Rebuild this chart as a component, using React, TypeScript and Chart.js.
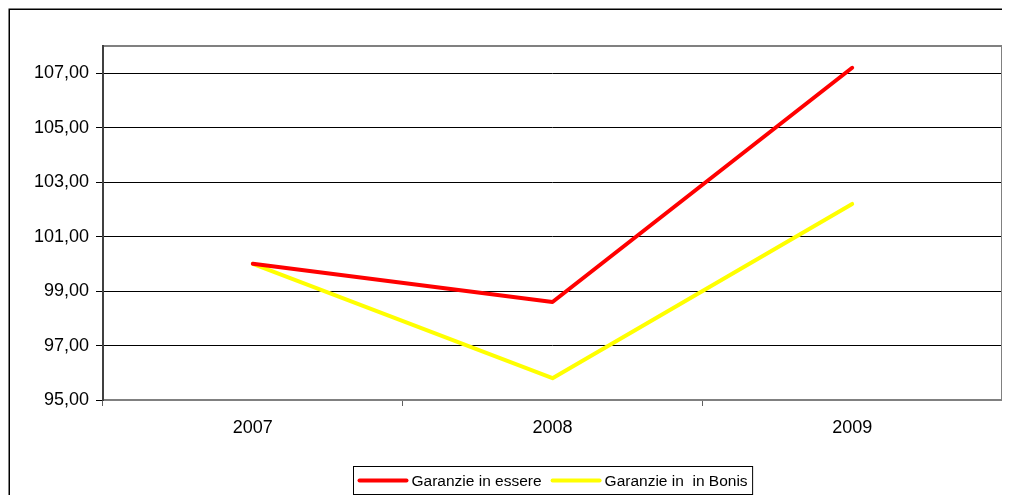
import React, { useEffect, useRef } from "react";
import { Chart, registerables } from "chart.js";

Chart.register(...registerables);

const FONT = '"Liberation Sans", Arial, sans-serif';

const years = ["2007", "2008", "2009"];
const garanzieInEssere = [100.0, 98.6, 107.2];
const garanzieInBonis = [100.0, 95.8, 102.2];
const yTicks = [95, 97, 99, 101, 103, 105, 107];

// Outer frame of the chart object, plot-area border and the boxed legend
const framePlugin = {
  id: "framePlugin",
  beforeDraw(chart: any) {
    const { ctx, width, height } = chart;
    ctx.save();
    ctx.fillStyle = "#ffffff";
    ctx.fillRect(0, 0, width, height);
    ctx.strokeStyle = "#000000";
    ctx.lineWidth = 1.5;
    ctx.strokeRect(1.25, 1.25, width + 20, height + 20);
    ctx.restore();
  },
  beforeDatasetsDraw(chart: any) {
    const { ctx, chartArea } = chart;
    ctx.save();
    ctx.strokeStyle = "#808080";
    ctx.lineWidth = 2;
    ctx.strokeRect(
      chartArea.left,
      chartArea.top,
      chartArea.right - chartArea.left,
      chartArea.bottom - chartArea.top
    );
    ctx.strokeStyle = "#404040";
    ctx.beginPath();
    ctx.moveTo(chartArea.left, chartArea.top - 1);
    ctx.lineTo(chartArea.left, chartArea.bottom + 1);
    ctx.stroke();
    ctx.restore();
  },
  afterDraw(chart: any) {
    const { ctx, chartArea } = chart;
    ctx.save();
    ctx.font = `15.5px ${FONT}`;
    const items = chart.data.datasets.map((ds: any) => ({
      label: ds.label as string,
      color: ds.borderColor as string,
      w: ctx.measureText(ds.label).width,
    }));
    const sample = 51;
    const gap = 3;
    const itemGap = 9;
    const padL = 4;
    const padR = 5;
    const total =
      padL +
      items.reduce((s: number, it: any) => s + sample + gap + it.w, 0) +
      itemGap * (items.length - 1) +
      padR;
    const left = Math.round((chartArea.left + chartArea.right) / 2 - total / 2) + 0.5;
    const top = chartArea.bottom + 66.5;
    const h = 28;
    ctx.strokeStyle = "#000000";
    ctx.lineWidth = 1;
    ctx.strokeRect(left, top, total, h);
    const cy = top + h / 2;
    let x = left + padL;
    ctx.textBaseline = "middle";
    ctx.textAlign = "left";
    items.forEach((it: any, i: number) => {
      ctx.strokeStyle = it.color;
      ctx.lineWidth = 4;
      ctx.lineCap = "round";
      ctx.beginPath();
      ctx.moveTo(x + 2, cy);
      ctx.lineTo(x + sample - 2, cy);
      ctx.stroke();
      x += sample + gap;
      ctx.fillStyle = "#000000";
      ctx.fillText(it.label, x, cy + 1);
      x += it.w + (i < items.length - 1 ? itemGap : 0);
    });
    ctx.restore();
  },
};

export default function App() {
  const canvasRef = useRef<HTMLCanvasElement | null>(null);

  useEffect(() => {
    if (!canvasRef.current) return;
    const chart = new Chart(canvasRef.current, {
      type: "line",
      data: {
        labels: years,
        datasets: [
          {
            label: "Garanzie in essere",
            data: garanzieInEssere,
            borderColor: "#ff0000",
            backgroundColor: "#ff0000",
            borderWidth: 4,
            pointRadius: 0,
            pointHoverRadius: 0,
            borderCapStyle: "round",
            borderJoinStyle: "round",
            tension: 0,
          },
          {
            label: "Garanzie in  in Bonis",
            data: garanzieInBonis,
            borderColor: "#ffff00",
            backgroundColor: "#ffff00",
            borderWidth: 4,
            pointRadius: 0,
            pointHoverRadius: 0,
            borderCapStyle: "round",
            borderJoinStyle: "round",
            tension: 0,
          },
        ],
      },
      options: {
        responsive: false,
        animation: false,
        devicePixelRatio: 1,
        layout: { padding: { top: 38, right: 8, bottom: 0, left: 0 } },
        plugins: {
          legend: { display: false },
          tooltip: { enabled: false },
        },
        scales: {
          x: {
            offset: true,
            border: { display: false },
            grid: {
              offset: true,
              drawOnChartArea: false,
              drawTicks: true,
              tickLength: 6,
              color: "#606060",
              lineWidth: 1,
            },
            ticks: {
              color: "#000000",
              font: { family: FONT, size: 18 },
              padding: 11,
              maxRotation: 0,
            },
            afterFit: (scale: any) => {
              scale.height = 95;
            },
          },
          y: {
            min: 95,
            max: 108,
            border: { display: false },
            grid: {
              color: "#000000",
              lineWidth: 1,
              tickLength: 7,
            },
            ticks: {
              stepSize: 2,
              color: "#000000",
              font: { family: FONT, size: 18 },
              padding: 7,
              callback: (v: any) => Number(v).toFixed(2).replace(".", ","),
            },
            afterBuildTicks: (scale: any) => {
              scale.ticks = yTicks.map((value) => ({ value }));
            },
            afterFit: (scale: any) => {
              scale.width = 95;
            },
          },
        },
      },
      plugins: [framePlugin],
    });
    return () => chart.destroy();
  }, []);

  return (
    <canvas
      ref={canvasRef}
      width={1002}
      height={487}
      style={{ display: "block", width: 1002, height: 487 }}
    />
  );
}
